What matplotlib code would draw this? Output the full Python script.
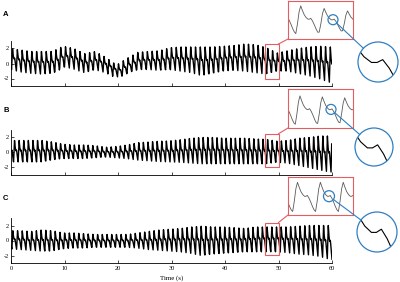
import numpy as np
import matplotlib
matplotlib.use("Agg")
import matplotlib.pyplot as plt
from matplotlib.patches import Rectangle, Circle
from matplotlib.lines import Line2D
from matplotlib.transforms import IdentityTransform

plt.rcParams['font.family'] = ['Liberation Serif', 'DejaVu Serif']
plt.rcParams['axes.unicode_minus'] = False

# ---------------- data ----------------
panel_labels = ["A", "B", "C"]
x_ticks = [0, 10, 20, 30, 40, 50, 60]
y_ticks = [-2, 0, 2]
x_label = "Time (s)"

# envelope sample times (s)
env_t = [0, 2, 4, 6, 8, 10, 12, 14, 16, 18, 20, 22, 24, 26, 28, 30,
         32, 34, 36, 38, 40, 42, 44, 46, 48, 50, 52, 54, 56, 58, 60]

# upper / lower envelope of the pulse wave
A_top = [2.0, 1.8, 1.6, 1.6, 1.6, 2.3, 2.0, 1.3, 1.6, 0.8, -0.2, 0.7, 1.5, 1.6, 1.7, 2.1,
         2.2, 2.2, 2.2, 2.2, 2.3, 2.4, 2.6, 2.5, 2.1, 1.4, 1.7, 2.0, 2.2, 2.3, 2.2]
A_bot = [-0.7, -1.1, -1.3, -1.4, -1.3, -0.4, -0.7, -1.2, -0.8, -1.2, -1.9, -1.2, -0.8, -0.8, -0.9, -0.8,
         -1.0, -1.2, -1.6, -1.3, -1.0, -0.9, -1.0, -1.2, -1.4, -1.0, -1.0, -1.3, -1.6, -2.0, -2.5]
B_top = [1.6, 1.6, 1.6, 1.6, 1.4, 1.1, 1.0, 1.0, 0.9, 0.7, 0.8, 1.0, 1.3, 1.4, 1.5, 1.55,
         1.7, 1.9, 2.0, 2.0, 1.9, 1.9, 1.9, 1.8, 1.75, 1.5, 1.6, 1.9, 2.0, 2.2, 2.2]
B_bot = [-1.25, -1.25, -1.25, -1.25, -1.0, -0.8, -0.8, -0.8, -0.7, -0.6, -0.7, -0.8, -1.0, -1.1, -1.2, -1.25,
         -1.3, -1.4, -1.5, -1.5, -1.5, -1.5, -1.5, -1.5, -1.5, -1.3, -1.4, -1.7, -2.0, -2.3, -2.6]
C_top = [1.3, 1.3, 1.2, 1.4, 1.3, 1.0, 1.0, 0.9, 0.8, 0.8, 0.8, 0.8, 1.0, 1.2, 1.4, 1.5,
         1.6, 1.8, 1.9, 1.8, 1.8, 1.7, 1.6, 1.8, 1.8, 1.8, 1.8, 1.9, 2.0, 2.0, 2.0]
C_bot = [-1.1, -1.2, -1.3, -1.4, -1.4, -1.1, -1.0, -1.0, -0.9, -0.9, -0.9, -0.9, -1.0, -1.2, -1.3, -1.4,
         -1.5, -1.7, -2.0, -1.8, -1.7, -1.6, -1.5, -1.5, -1.5, -1.5, -1.6, -1.8, -1.9, -2.1, -2.5]

# single-beat shape (phase within beat, normalised level)
shape_phase = [0.00, 0.07, 0.14, 0.21, 0.28, 0.36, 0.44, 0.52, 0.58, 0.64, 0.71,
               0.79, 0.87, 0.94]
shape_value = [0.00, 0.35, 0.78, 1.00, 0.84, 0.68, 0.58, 0.52, 0.52, 0.55, 0.46,
               0.32, 0.16, 0.05]

beat_period = [0.90, 0.86, 0.88]
first_onset = [0.10, 0.48, 0.16]
zoom_window = [47.5, 50.0]
zoom_ylim = [(-2.0, 2.6), (-1.9, 2.5), (-1.9, 2.4)]

# ---------------- layout (pixels) ----------------
W, H = 400, 282
main_bottom = [86, 175, 263]
main_h = 45
inset_top_bot = [(1, 39), (89, 128), (177, 215)]
inset_x = (288, 353)
small_circ = [(333, 5.0), (331, 5.0), (329, 5.5)]       # x-pixel centre, radius
big_circ = [(378, 62, 20), (374, 147, 19), (377, 232, 20)]
letter_y = [15, 111, 198]
RED = "#e35d63"
BLUE = "#2f7fc1"


def fx(px):
    return px / W


def fy(py):
    return 1 - py / H


def build(top, bot, period, onset):
    onsets = np.arange(onset - period, 60.0 + period, period)
    ts, vs = [], []
    for o in onsets:
        mid = o + period / 2
        tp = np.interp(mid, env_t, top)
        bt = np.interp(mid, env_t, bot)
        for ph, sv in zip(shape_phase, shape_value):
            ts.append(o + ph * period)
            vs.append(bt + (tp - bt) * sv)
    ts = np.array(ts)
    vs = np.array(vs)
    m = (ts >= 0) & (ts <= 60)
    return ts[m], vs[m]


fig = plt.figure(figsize=(W / 100, H / 100), dpi=100)
fig.patch.set_facecolor("white")

tops = [A_top, B_top, C_top]
bots = [A_bot, B_bot, C_bot]

for i in range(3):
    t, v = build(tops[i], bots[i], beat_period[i], first_onset[i])

    ax = fig.add_axes([fx(11), fy(main_bottom[i]), 321 / W, main_h / H])
    ax.plot(t, v, color="black", lw=1.0)
    ax.set_xlim(0, 60)
    ax.set_ylim(-3, 3)
    ax.set_xticks(x_ticks)
    ax.set_yticks(y_ticks)
    ax.set_yticklabels([str(y) for y in y_ticks])
    if i == 2:
        ax.set_xticklabels([str(x) for x in x_ticks])
        ax.set_xlabel(x_label, fontsize=5, labelpad=2.5)
    else:
        ax.set_xticklabels([])
    for s in ["top", "right"]:
        ax.spines[s].set_visible(False)
    for s in ["left", "bottom"]:
        ax.spines[s].set_linewidth(0.6)
    ax.tick_params(axis="x", direction="in", length=2, width=0.5, labelsize=4.5, pad=2.5)
    ax.tick_params(axis="y", direction="in", length=2, width=0.5, labelsize=4.5, pad=1.5)
    ax.patch.set_alpha(0)

    fig.text(fx(3), fy(letter_y[i]), panel_labels[i], fontsize=5.5,
             fontweight="bold", family=["Liberation Sans", "DejaVu Sans"],
             ha="left", va="center")

    # red zoom box on main trace
    y0, y1 = zoom_ylim[i]
    rect = Rectangle((zoom_window[0], y0), zoom_window[1] - zoom_window[0], y1 - y0,
                     fill=False, edgecolor=RED, lw=0.8, zorder=5)
    ax.add_patch(rect)

    # inset
    itop, ibot = inset_top_bot[i]
    iax = fig.add_axes([fx(inset_x[0]), fy(ibot), (inset_x[1] - inset_x[0]) / W, (ibot - itop) / H])
    m = (t >= zoom_window[0] - 1) & (t <= zoom_window[1] + 1)
    iax.plot(t[m], v[m], color="#5a5a5a", lw=0.6)
    iax.set_xlim(zoom_window)
    iax.set_ylim(y0, y1)
    iax.set_xticks([])
    iax.set_yticks([])
    for s in iax.spines.values():
        s.set_edgecolor(RED)
        s.set_linewidth(0.8)

    fig.canvas.draw()
    # red connector: main box top-right -> inset bottom-left
    p1 = ax.transData.transform((zoom_window[1], y1))
    p2 = iax.transAxes.transform((0, 0))
    fig.add_artist(Line2D([p1[0], p2[0]], [p1[1], p2[1]], color=RED, lw=0.8,
                          transform=IdentityTransform()))

    # small circle on the inset
    scx, sr = small_circ[i]
    tc = zoom_window[0] + (scx - inset_x[0]) / (inset_x[1] - inset_x[0]) * (zoom_window[1] - zoom_window[0])
    vc = np.interp(tc, t, v)
    cdisp = iax.transData.transform((tc, vc))
    fig.add_artist(Circle(cdisp, sr, fill=False, edgecolor=BLUE, lw=0.9,
                          transform=IdentityTransform()))

    # big magnifier circle
    bcx, bcy, R = big_circ[i]
    bax = fig.add_axes([fx(bcx - R), fy(bcy + R), 2 * R / W, 2 * R / H])
    bax.set_axis_off()
    ppx_t = (inset_x[1] - inset_x[0]) / (zoom_window[1] - zoom_window[0])
    ppx_v = (ibot - itop) / (y1 - y0)
    mb = (t >= tc - 1) & (t <= tc + 1)
    line, = bax.plot(t[mb], v[mb], color="black", lw=0.8)
    bax.set_xlim(tc - sr / ppx_t, tc + sr / ppx_t)
    bax.set_ylim(vc - sr / ppx_v, vc + sr / ppx_v)
    clip = Circle((0.5, 0.5), 0.5, transform=bax.transAxes, facecolor="none", edgecolor="none")
    bax.add_patch(clip)
    line.set_clip_path(clip)
    bdisp = np.array([bcx, H - bcy], dtype=float)
    fig.add_artist(Circle(bdisp, R, fill=False, edgecolor=BLUE, lw=0.9,
                          transform=IdentityTransform()))

    # blue connector between circles
    d = bdisp - cdisp
    u = d / np.hypot(*d)
    a = cdisp + u * sr
    b = bdisp - u * R
    fig.add_artist(Line2D([a[0], b[0]], [a[1], b[1]], color=BLUE, lw=0.8,
                          transform=IdentityTransform()))

fig.savefig("out.png", dpi=100)
